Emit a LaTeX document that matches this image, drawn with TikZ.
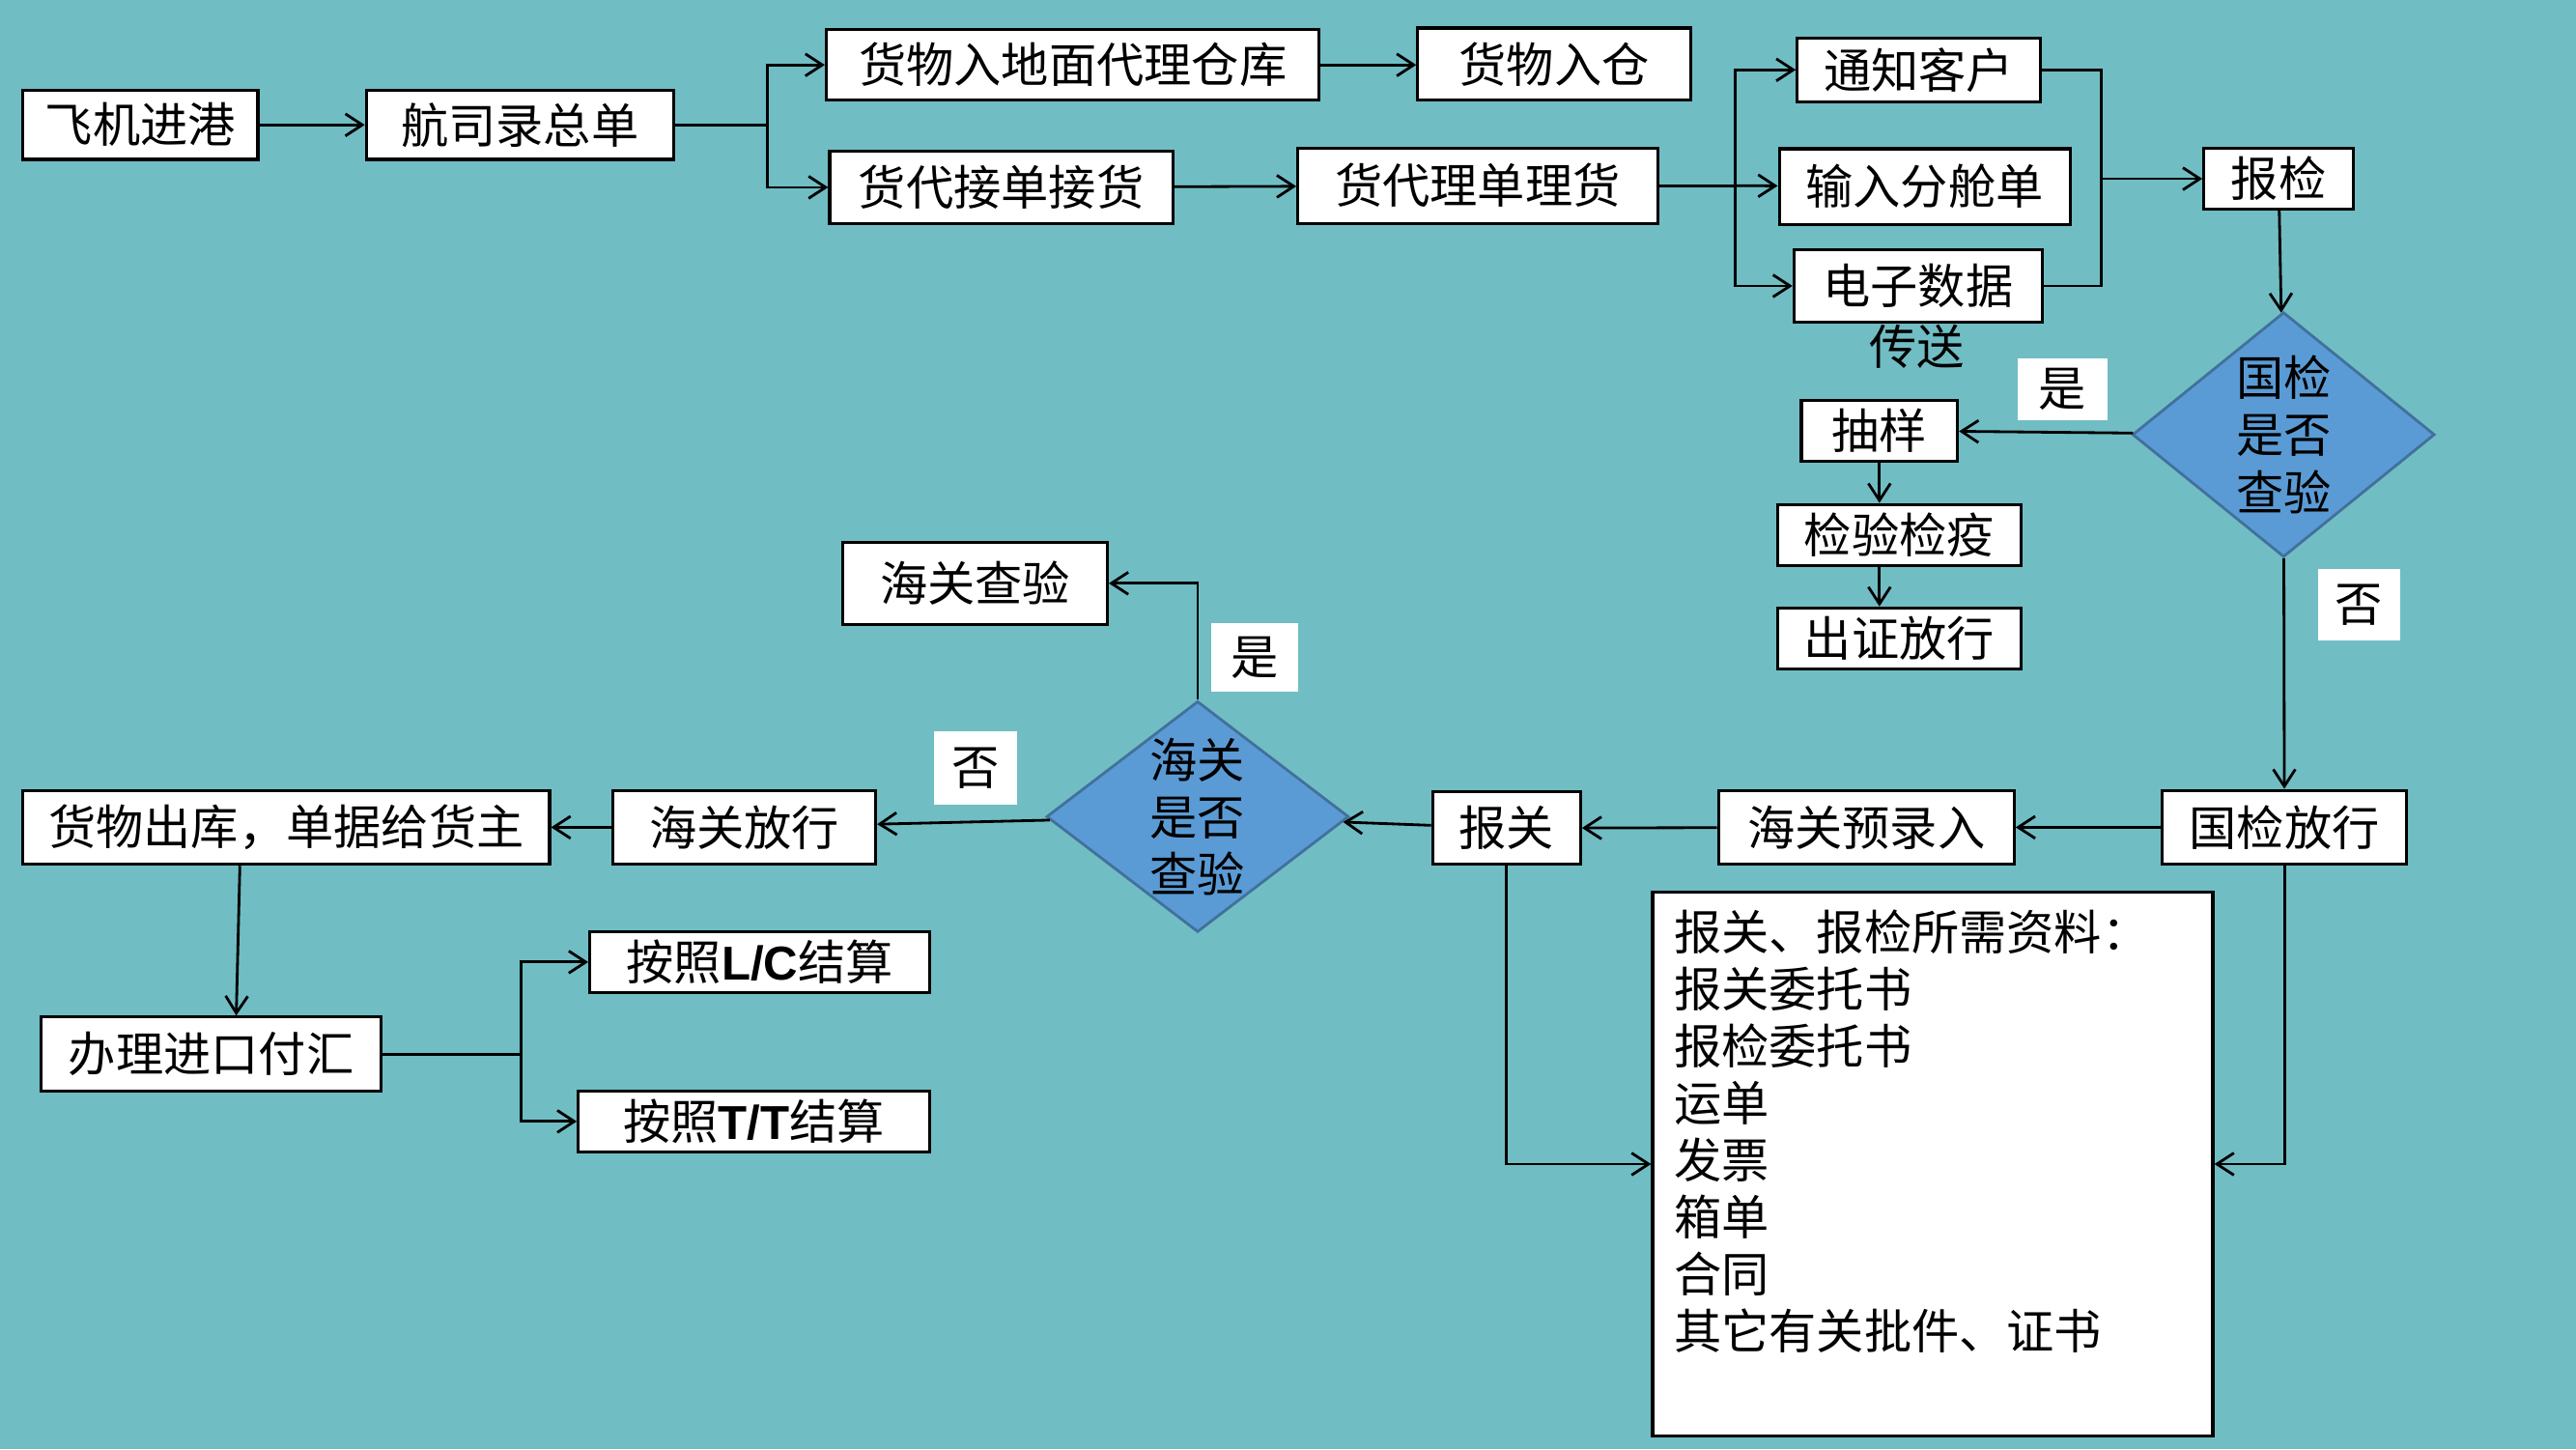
\documentclass[tikz,border=0pt]{standalone}
\usepackage{fontspec}
\usepackage{xcolor}
\usetikzlibrary{arrows.meta,shapes.geometric}
\newfontfamily\cjk{Noto Sans CJK SC}
\newfontfamily\lcfont{Liberation Sans}
\newcommand{\zh}{\cjk\fontsize{14pt}{16.8pt}\selectfont}
\definecolor{bgteal}{RGB}{113,189,196}
\definecolor{diafill}{RGB}{91,155,213}
\definecolor{diaedge}{RGB}{65,113,156}
\tikzset{
	box/.style={draw, fill=white, line width=0.9pt, inner sep=0pt, font=\zh},
	sz/.style 2 args={minimum width=#1*0.017cm, minimum height=#2*0.017cm},
	tag/.style={fill=white, inner sep=0pt, font=\zh},
	decide/.style={diamond, draw=diaedge, fill=diafill, line width=0.8pt,
			aspect=1.25, inner sep=-1pt, align=center, font=\zh},
	flow/.style={-{Straight Barb[length=5pt,width=6.5pt]}, line width=0.8pt},
	link/.style={line width=0.8pt}
}
\begin{document}
\begin{tikzpicture}[x=0.017cm,y=-0.017cm]

			% Background
			\useasboundingbox (0,0) rectangle (1568,882);
			\fill[bgteal] (0,0) rectangle (1568,882);

			% Top rows
			\node[box, sz={143}{42}] (plane) at (85.5,76) {飞机进港};
			\node[box, sz={187}{42}] (master) at (316.5,76) {航司录总单};
			\node[box, sz={300}{43}] (ground) at (653,39.5) {货物入地面代理仓库};
			\node[box, sz={209}{44}] (fwdrecv) at (609.5,114) {货代接单接货};
			\node[box, sz={166}{44}] (store) at (946,39) {货物入仓};
			\node[box, sz={219}{46}] (fwdsort) at (899.5,113) {货代理单理货};
			\node[box, sz={148}{39}] (notify) at (1168,42.5) {通知客户};
			\node[box, sz={177}{46}] (split) at (1171.5,113.5) {输入分舱单};
			\node[box, sz={151}{44}] (edata) at (1167.5,174) {电子数据};
			\node[font=\zh, inner sep=0pt] (relay) at (1167,211) {传送};
			\node[box, sz={91}{37}] (insp) at (1387,108.8) {报检};

			% Inspection branch
			\node[decide, minimum width=184*0.017cm, minimum height=149*0.017cm] (ciqq) at (1390,264.5) {国检\\是否\\查验};
			\node[tag, sz={55}{38}] (yesa) at (1255.5,237) {是};
			\node[tag, sz={50}{44}] (noa) at (1436,368) {否};
			\node[box, sz={95}{37}] (sample) at (1144,262) {抽样};
			\node[box, sz={148}{37}] (quar) at (1156,325.5) {检验检疫};
			\node[box, sz={148}{37}] (cert) at (1156,388.5) {出证放行};

			% Customs row
			\node[box, sz={149}{45}] (ciqrel) at (1390.5,503.5) {国检放行};
			\node[box, sz={180}{45}] (precus) at (1136,503.5) {海关预录入};
			\node[box, sz={90}{44}] (decl) at (917,504) {报关};
			\node[decide, minimum width=184*0.017cm, minimum height=140.5*0.017cm] (cusq) at (729,497) {海关\\是否\\查验};
			\node[box, sz={161}{50}] (cusinsp) at (593.5,355) {海关查验};
			\node[tag, sz={53}{42}] (yesb) at (763.5,400) {是};
			\node[tag, sz={50}{45}] (nob) at (593.8,467.5) {否};
			\node[box, sz={160}{45}] (cusrel) at (453,503.5) {海关放行};
			\node[box, sz={320.5}{45}] (out) at (174.25,503.5) {货物出库，单据给货主};

			% Payment
			\node[box, sz={207}{45}] (pay) at (128.5,641.5) {办理进口付汇};
			\node[box, sz={207}{37}] (lc) at (462.5,585.5) {按照{\lcfont\bfseries L/C}结算};
			\node[box, sz={214}{37}] (tt) at (459,682.5) {按照{\lcfont\bfseries T/T}结算};

			% Documents list
			\node[box, anchor=north west, align=left, text width=5.355cm,
				inner xsep=0.221cm, inner ysep=0.18cm, text depth=4.85cm] (docs) at (1005,542)
				{报关、报检所需资料：\\报关委托书\\报检委托书\\运单\\发票\\箱单\\合同\\其它有关批件、证书};

			% Branch points
			\coordinate (forka) at (467,76);
			\coordinate (forkb) at (1056,113);
			\coordinate (joina) at (1279,42.5);
			\coordinate (joinb) at (1279,174);
			\coordinate (joinc) at (1279,108.8);
			\coordinate (forkc) at (317,641.5);

			% Connectors
			\draw[flow] (plane) -- (master);
			\draw[link] (master) -- (forka);
			\draw[flow] (forka) |- (ground);
			\draw[flow] (forka) |- (fwdrecv);
			\draw[flow] (ground.east) -- (ground.east -| store.west);
			\draw[flow] (fwdrecv) -- (fwdsort);
			\draw[link] (fwdsort) -- (forkb);
			\draw[flow] (forkb) |- (notify);
			\draw[flow] (forkb) -- (split);
			\draw[flow] (forkb) |- (edata);
			\draw[link] (notify) -- (joina) -- (joinb) -- (edata);
			\draw[flow] (joinc) -- (insp);
			\draw[flow] (insp) -- (ciqq);
			\draw[flow] (ciqq) -- (sample);
			\draw[flow] (sample.south) -- (sample.south |- quar.north);
			\draw[flow] (sample.south |- quar.south) -- (sample.south |- cert.north);
			\draw[flow] (ciqq) -- (ciqrel);
			\draw[flow] (ciqrel) -- (precus);
			\draw[flow] (precus) -- (decl);
			\draw[flow] (decl) -- (cusq);
			\draw[flow] (cusq) |- (cusinsp);
			\draw[flow] (cusq) -- (cusrel);
			\draw[flow] (cusrel) -- (out);
			\draw[flow] ([xshift=-0.48cm]out.south) -- ([xshift=0.26cm]pay.north);
			\draw[link] (pay) -- (forkc);
			\draw[flow] (forkc) |- (lc);
			\draw[flow] (forkc) |- (tt);
			\draw[flow] (decl) |- (docs);
			\draw[flow] (ciqrel) |- (docs);
		\end{tikzpicture}
\end{document}
